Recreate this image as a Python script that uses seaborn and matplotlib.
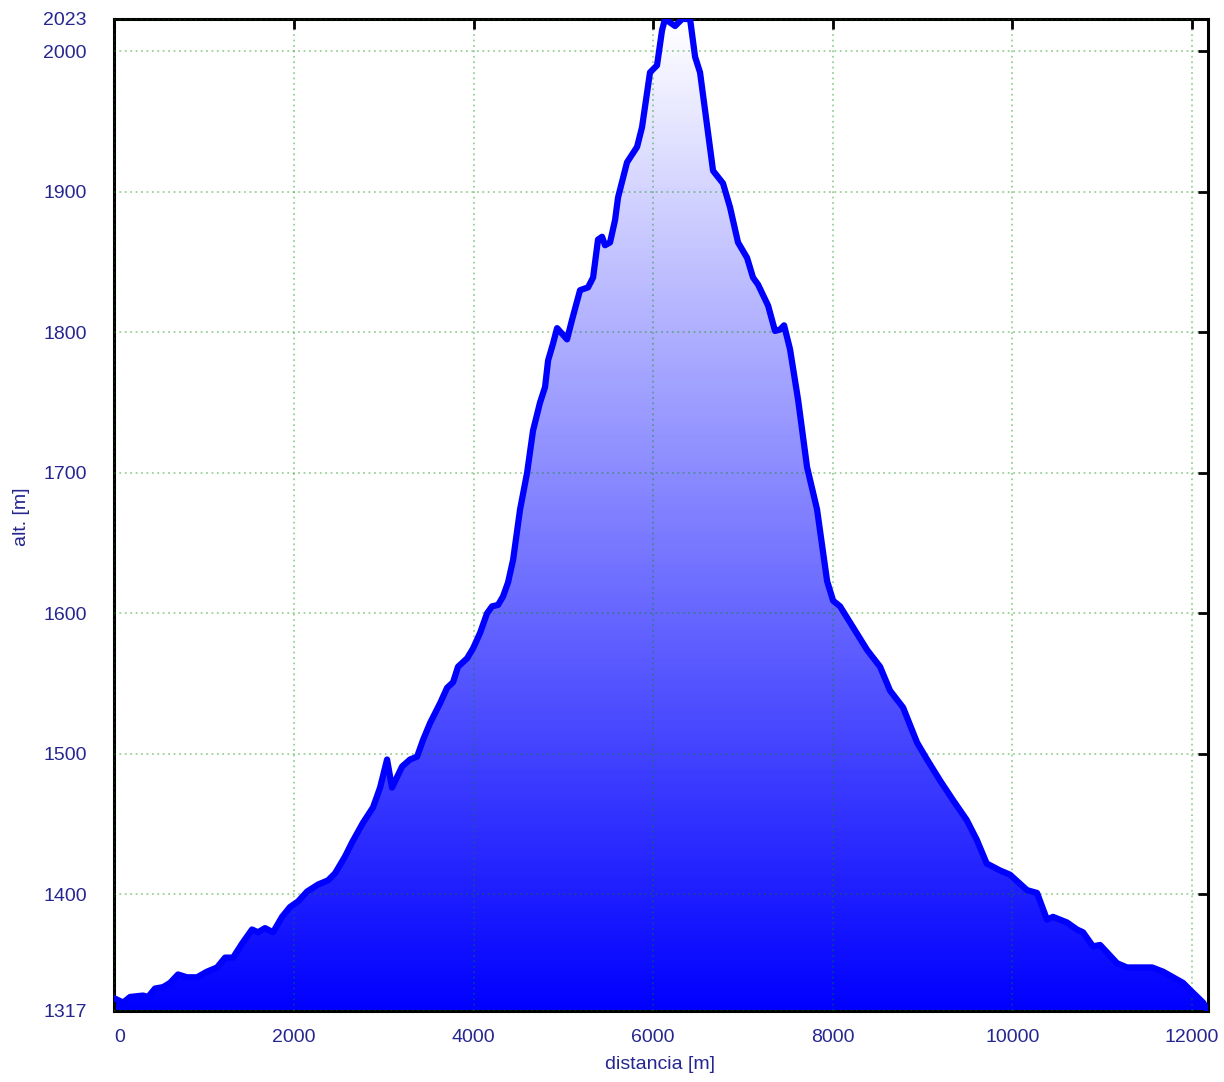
import numpy as np
import pandas as pd
import matplotlib
matplotlib.use('Agg')
import matplotlib.pyplot as plt
import seaborn as sns
from matplotlib.colors import LinearSegmentedColormap

# Elevation profile
distance = [0, 96, 174, 318, 374, 452, 541, 619, 708, 808, 920, 1031, 1143, 1232, 1321,
            1421, 1532, 1599, 1677, 1766, 1866, 1955, 2045, 2145, 2267, 2379, 2457, 2568,
            2646, 2768, 2880, 2958, 3036, 3091, 3203, 3292, 3370, 3437, 3515, 3626, 3704,
            3771, 3826, 3927, 3993, 4071, 4149, 4205, 4272, 4327, 4383, 4439, 4517, 4595,
            4661, 4739, 4795, 4829, 4884, 4929, 5040, 5096, 5185, 5274, 5330, 5385, 5430,
            5463, 5519, 5575, 5608, 5708, 5820, 5875, 5964, 6042, 6098, 6131, 6243, 6321,
            6410, 6466, 6521, 6666, 6777, 6855, 6944, 7045, 7111, 7167, 7279, 7356, 7412,
            7457, 7523, 7613, 7713, 7824, 7936, 8003, 8080, 8225, 8381, 8526, 8637, 8782,
            8938, 9049, 9194, 9339, 9490, 9602, 9713, 9862, 9973, 10163, 10274, 10385,
            10452, 10608, 10719, 10786, 10897, 10976, 11165, 11276, 11388, 11555, 11677,
            11900, 11978, 12123, 12178]
altitude = [1326, 1323, 1327, 1328, 1327, 1333, 1334, 1337, 1343, 1341, 1341, 1345, 1348,
            1355, 1355, 1365, 1375, 1373, 1376, 1373, 1384, 1391, 1395, 1402, 1407, 1410,
            1415, 1427, 1437, 1451, 1462, 1476, 1496, 1476, 1491, 1496, 1498, 1510, 1522,
            1536, 1547, 1551, 1562, 1568, 1575, 1586, 1600, 1605, 1606, 1612, 1622, 1638,
            1674, 1700, 1730, 1750, 1761, 1780, 1792, 1803, 1795, 1809, 1830, 1832, 1839,
            1866, 1868, 1862, 1864, 1880, 1896, 1921, 1932, 1946, 1985, 1990, 2015, 2023,
            2018, 2023, 2023, 1996, 1985, 1915, 1906, 1889, 1864, 1853, 1839, 1834, 1819,
            1801, 1802, 1805, 1788, 1752, 1704, 1674, 1623, 1609, 1605, 1590, 1574, 1562,
            1545, 1533, 1508, 1496, 1481, 1467, 1453, 1439, 1422, 1417, 1414, 1403, 1401,
            1382, 1384, 1380, 1375, 1373, 1363, 1364, 1351, 1348, 1348, 1348, 1345, 1337,
            1332, 1323, 1317]

x_ticks = [0, 2000, 4000, 6000, 8000, 10000, 12000]
y_ticks = [1317, 1400, 1500, 1600, 1700, 1800, 1900, 2000, 2023]

navy = '#262690'

sns.set_style('white')
plt.rcParams['font.family'] = ['Liberation Sans', 'DejaVu Sans']

fig = plt.figure(figsize=(12.24, 10.82), dpi=100)
ax = fig.add_axes([0.0935, 0.06562, 0.89346, 0.91682])

df = pd.DataFrame({'distancia': distance, 'alt': altitude})
y_min, y_max = min(altitude), max(altitude)
x_max = max(distance)

# vertical gradient (blue at bottom, white at top) clipped to the profile area
poly = ax.fill_between(df['distancia'], df['alt'], y_min, color='none', lw=0)
grad = np.linspace(0, 1, 256).reshape(-1, 1)
cmap = LinearSegmentedColormap.from_list('profile', ['#0000ff', '#ffffff'])
img = ax.imshow(grad, cmap=cmap, origin='lower', aspect='auto',
                extent=[0, x_max, y_min, y_max], zorder=1, interpolation='bilinear')
img.set_clip_path(poly.get_paths()[0], transform=ax.transData)

sns.lineplot(data=df, x='distancia', y='alt', ax=ax, color='#0000ff', lw=4.5,
             solid_joinstyle='round', solid_capstyle='round', zorder=3)

ax.set_xlim(0, x_max)
ax.set_ylim(y_min, y_max)
ax.set_xticks(x_ticks)
ax.set_yticks(y_ticks)
ax.set_xticklabels([str(t) for t in x_ticks])
ax.set_yticklabels([str(t) for t in y_ticks])
ax.get_xticklabels()[0].set_ha('left')

ax.set_axisbelow(False)
ax.grid(True, color=(0, 0.55, 0), alpha=0.4, linestyle=(0, (1, 2)), lw=1.3)

ax.tick_params(direction='in', length=7, width=2, top=True, right=True,
               labelcolor=navy, labelsize=14, color='black')
ax.tick_params(axis='x', pad=13)
ax.tick_params(axis='y', pad=20)

for spine in ax.spines.values():
    spine.set_linewidth(2.2)
    spine.set_color('black')

ax.set_xlabel('distancia [m]', color=navy, fontsize=14)
ax.set_ylabel('alt. [m]', color=navy, fontsize=14)
ax.xaxis.set_label_coords(0.499, -0.0454)
ax.yaxis.set_label_coords(-0.0772, 0.498)

fig.savefig('out.png', dpi=100)
